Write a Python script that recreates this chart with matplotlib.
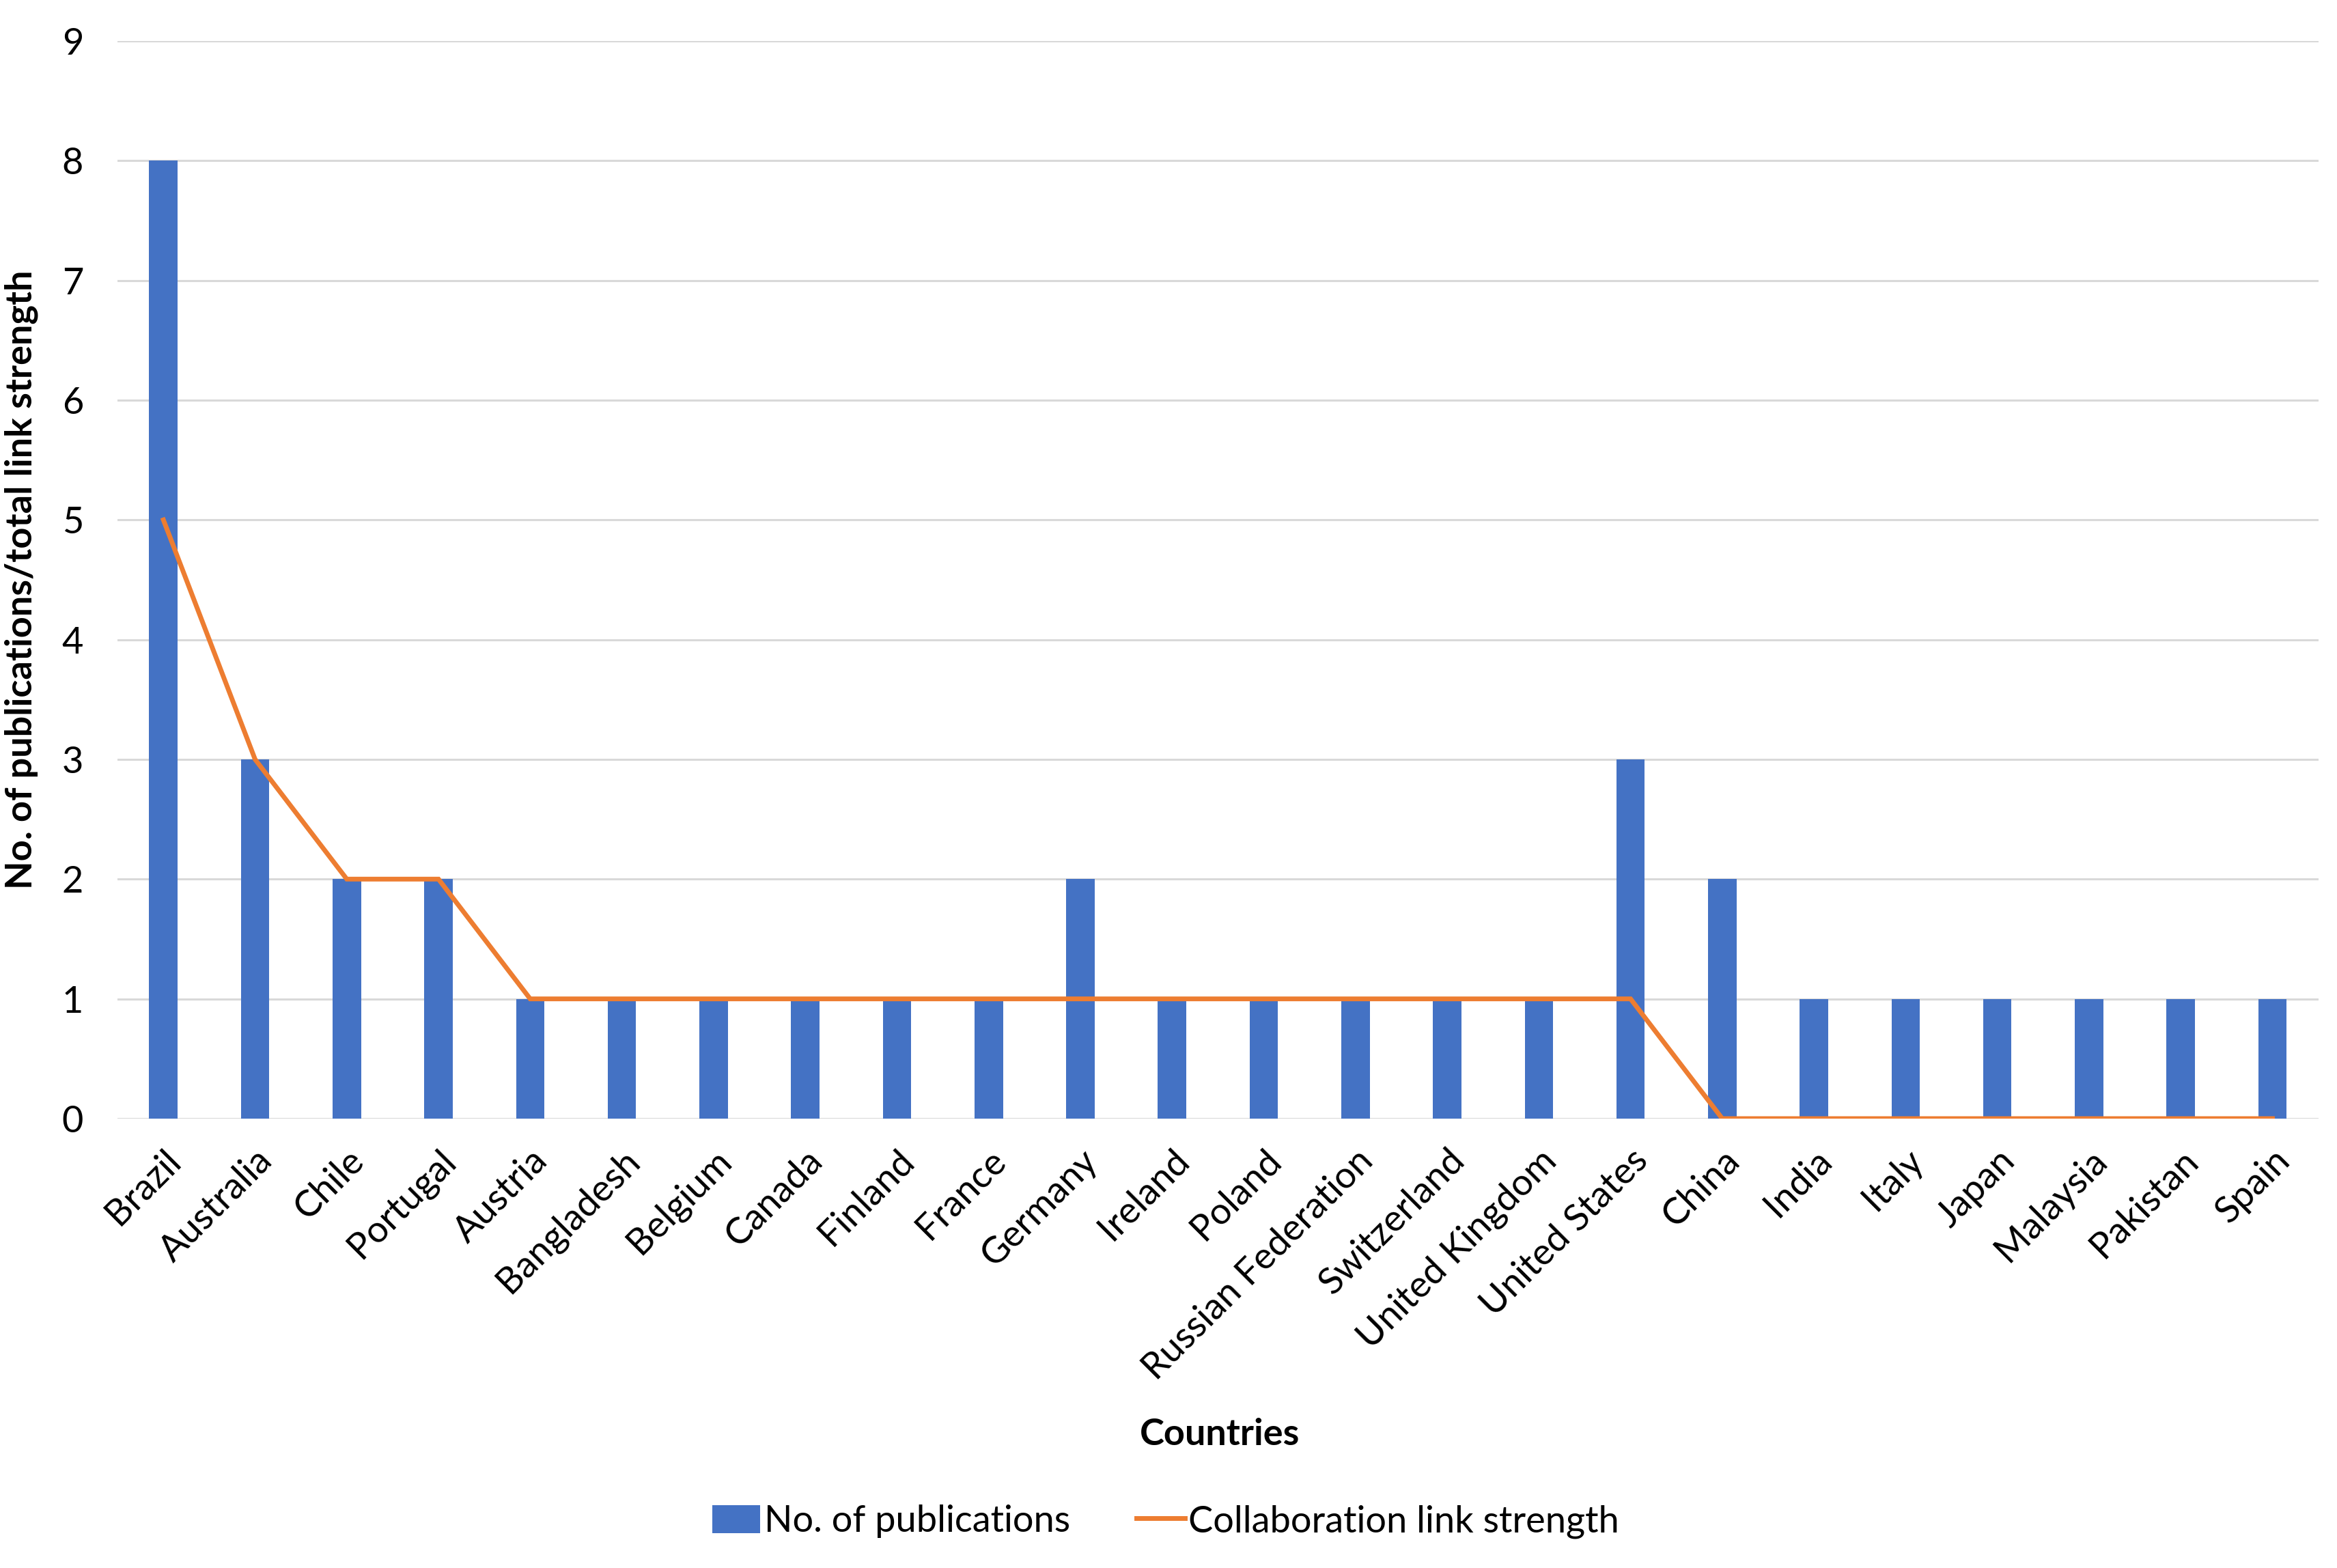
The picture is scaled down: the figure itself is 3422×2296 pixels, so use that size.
import matplotlib
matplotlib.use("Agg")
import matplotlib.pyplot as plt
import matplotlib.transforms as mtransforms
import numpy as np

countries = ["Brazil", "Australia", "Chile", "Portugal", "Austria", "Bangladesh",
             "Belgium", "Canada", "Finland", "France", "Germany", "Ireland",
             "Poland", "Russian Federation", "Switzerland", "United Kingdom",
             "United States", "China", "India", "Italy", "Japan", "Malaysia",
             "Pakistan", "Spain"]
publications = [8, 3, 2, 2, 1, 1, 1, 1, 1, 1, 2, 1, 1, 1, 1, 1, 3, 2, 1, 1, 1, 1, 1, 1]
link_strength = [5, 3, 2, 2, 1, 1, 1, 1, 1, 1, 1, 1, 1, 1, 1, 1, 1, 0, 0, 0, 0, 0, 0, 0]
yticks = list(range(0, 10))

plt.rcParams['font.family'] = ['Lato', 'DejaVu Sans']
FS = 39

fig = plt.figure(figsize=(34.22, 22.96), dpi=100)
ax = fig.add_axes([0.0503, 0.2866, 0.9417, 0.6873])

x = np.arange(len(countries))
bars = ax.bar(x, publications, width=0.31, color="#4472C4", label="No. of publications", zorder=2)
line, = ax.plot(x, link_strength, color="#ED7D31", lw=5, label="Collaboration link strength",
                zorder=3, solid_joinstyle='miter')

ax.set_xlim(-0.5, len(countries) - 0.5)
ax.set_ylim(0, 9)
ax.set_yticks(yticks)
ax.set_yticklabels([str(v) for v in yticks], fontsize=FS)
ax.yaxis.grid(True, color="#D9D9D9", lw=2.2, zorder=0)
ax.set_axisbelow(True)
for s in ax.spines.values():
    s.set_visible(False)
ax.tick_params(axis='both', length=0)
ax.tick_params(axis='y', pad=36)

ax.set_xticks(x)
ax.set_xticklabels(countries, fontsize=FS, rotation=45, ha='right', va='top',
                   rotation_mode='anchor')
ax.tick_params(axis='x', pad=26)
offset = mtransforms.ScaledTranslation(0 / 100, 0, fig.dpi_scale_trans)
for lbl in ax.get_xticklabels():
    lbl.set_transform(lbl.get_transform() + offset)

ax.set_ylabel("No. of publications/total link strength", fontsize=FS, fontweight='bold')
ax.yaxis.set_label_coords(-0.036, 0.5)
fig.text(1786 / 3422, 1 - 2100 / 2296, "Countries", fontsize=FS, fontweight='bold',
         ha='center', va='center')

leg = fig.legend([bars, line], ["No. of publications", "Collaboration link strength"],
                 loc='center', bbox_to_anchor=(1707 / 3422, 1 - 2228 / 2296),
                 ncol=2, frameon=False, fontsize=FS, handlelength=1.3, handleheight=0.8,
                 handletextpad=0.1, columnspacing=1.8)

fig.savefig("out.png", dpi=100)
